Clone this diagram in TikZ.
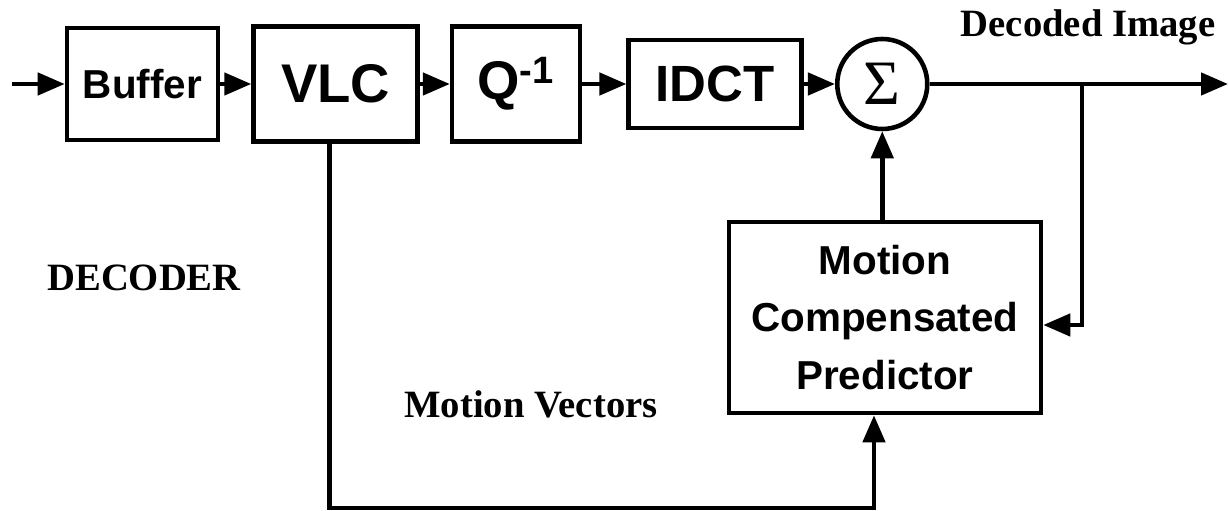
\documentclass[tikz,border=0pt]{standalone}
\usepackage{fontspec}
\setmainfont{Liberation Serif}
\setsansfont{Liberation Sans}
\usetikzlibrary{arrows.meta,positioning,calc}
\tikzset{
  block/.style={rectangle,draw,line width=2.6pt,align=center,inner sep=0pt,
    font=\sffamily\bfseries\fontsize{31}{34}\selectfont},
  adder/.style={circle,draw,line width=2.6pt,minimum size=1.8cm,inner sep=0pt,
    font=\fontsize{36}{38}\selectfont},
  note/.style={inner sep=0pt,font=\bfseries\fontsize{22}{24}\selectfont},
  arrow/.style={-{Triangle[length=0.54cm,width=0.44cm]},line width=2.6pt}
}
\begin{document}
\begin{tikzpicture}
  \useasboundingbox (0,0) rectangle (24.58,10.22);

  \node[block,minimum width=3.02cm,minimum height=2.24cm,
    font=\sffamily\bfseries\fontsize{23}{26}\selectfont]
    (buffer) at (2.85,8.54) {Buffer};
  \node[block,minimum width=3.28cm,minimum height=2.30cm,right=0.62cm of buffer]
    (vlc) {VLC};
  \node[block,minimum width=2.56cm,minimum height=2.30cm,right=0.60cm of vlc]
    (qinv) {Q\textsuperscript{-1}};
  \node[block,minimum width=3.46cm,minimum height=1.76cm,right=0.88cm of qinv,
    font=\sffamily\bfseries\fontsize{29}{32}\selectfont]
    (idct) {IDCT};
  \node[adder,right=0.62cm of idct] (sum) {Σ};

  \node[block,minimum width=6.24cm,minimum height=3.82cm,
    font=\sffamily\bfseries\fontsize{23}{32.5}\selectfont]
    (mcp) at (17.70,3.87) {Motion\\Compensated\\Predictor};

  \node[note] (decoder) at (2.88,4.66) {DECODER};
  \node[note] (mvlabel) at (10.62,2.14) {Motion Vectors};
  \node[note] (outlabel) at (21.76,9.68) {Decoded Image};

  \coordinate (in) at (0.24,8.54);
  \coordinate (out) at (24.56,8.54);
  \coordinate (tap) at (21.64,8.54);
  \coordinate (mvcorner) at (17.48,0.06);

  \draw[arrow] (in) -- (buffer);
  \draw[arrow] (buffer) -- (vlc);
  \draw[arrow] (vlc) -- (qinv);
  \draw[arrow] (qinv) -- (idct);
  \draw[arrow] (idct) -- (sum);
  \draw[arrow] (sum) -- (out);
  \draw[arrow] (tap) |- ([yshift=-0.15cm]mcp.east);
  \draw[arrow] (mcp.north -| sum.south) -- (sum.south);
  \draw[arrow] ([xshift=-0.12cm]vlc.south) |- (mvcorner) -- (mcp.south -| mvcorner);
\end{tikzpicture}
\end{document}
